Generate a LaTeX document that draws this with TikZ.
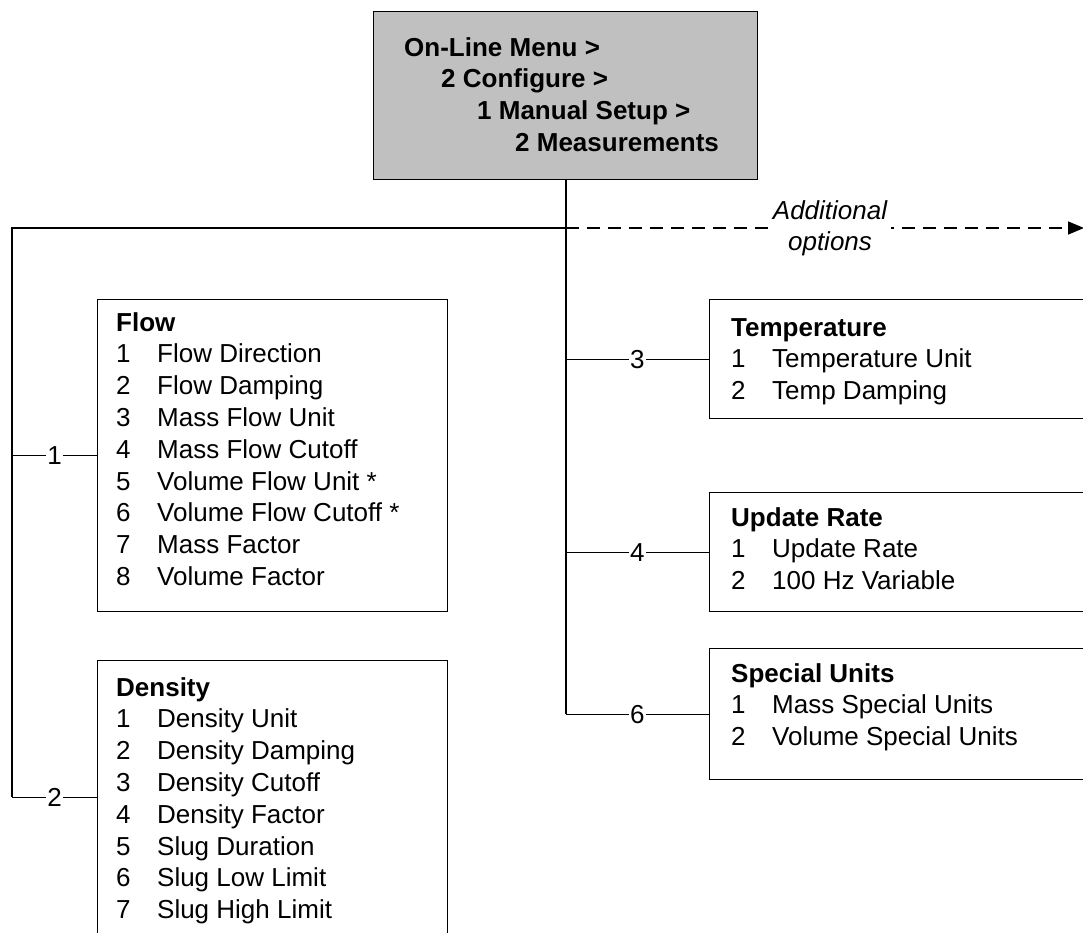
\documentclass[tikz,border=0pt]{standalone}
\usepackage{fontspec}
\setmainfont{Liberation Sans}
\usetikzlibrary{arrows.meta}
\definecolor{topgray}{HTML}{C0C0C0}
\newcommand{\itm}[2]{\makebox[41pt][l]{#1}#2}
\begin{document}
\begin{tikzpicture}[x=1pt,y=-1pt,
  every node/.style={font=\fontsize{26}{31.8}\selectfont},
  box/.style={draw=black, line width=1.3pt, fill=white, inner sep=0pt, anchor=north west},
  list/.style={anchor=base west, inner sep=0pt},
  trunk/.style={line width=2pt, draw=black},
  conn/.style={line width=1.1pt, draw=black},
  dashline/.style={line width=1.5pt, draw=black, dash pattern=on 13pt off 8pt},
  lbl/.style={fill=white, inner sep=1.5pt},
]
\clip (0,0) rectangle (1083,932);
% boxes
\node[box, fill=topgray, minimum width=384, minimum height=168] (menu) at (373,11) {};
\node[box, minimum width=350, minimum height=312] (flow) at (97,299) {};
\node[box, minimum width=350, minimum height=273] (density) at (97,660) {};
\node[box, minimum width=400, minimum height=119] (temp) at (709,299) {};
\node[box, minimum width=400, minimum height=119] (update) at (709,492) {};
\node[box, minimum width=400, minimum height=131] (special) at (709,648) {};
% texts
\node[list] (menutxt) at (404,56) {\bfseries\begin{tabular}[t]{@{}l@{}}
On-Line Menu >\\
\hspace*{37pt}2 Configure >\\
\hspace*{73pt}1 Manual Setup >\\
\hspace*{111pt}2 Measurements
\end{tabular}};
\node[list] (flowtxt) at (116,331) {\begin{tabular}[t]{@{}l@{}}
\textbf{Flow}\\
\itm{1}{Flow Direction}\\
\itm{2}{Flow Damping}\\
\itm{3}{Mass Flow Unit}\\
\itm{4}{Mass Flow Cutoff}\\
\itm{5}{Volume Flow Unit *}\\
\itm{6}{Volume Flow Cutoff *}\\
\itm{7}{Mass Factor}\\
\itm{8}{Volume Factor}
\end{tabular}};
\node[list] (denstxt) at (116,696) {\begin{tabular}[t]{@{}l@{}}
\textbf{Density}\\
\itm{1}{Density Unit}\\
\itm{2}{Density Damping}\\
\itm{3}{Density Cutoff}\\
\itm{4}{Density Factor}\\
\itm{5}{Slug Duration}\\
\itm{6}{Slug Low Limit}\\
\itm{7}{Slug High Limit}
\end{tabular}};
\node[list] (temptxt) at (731,336) {\begin{tabular}[t]{@{}l@{}}
\textbf{Temperature}\\
\itm{1}{Temperature Unit}\\
\itm{2}{Temp Damping}
\end{tabular}};
\node[list] (updtxt) at (731,526) {\begin{tabular}[t]{@{}l@{}}
\textbf{Update Rate}\\
\itm{1}{Update Rate}\\
\itm{2}{100 Hz Variable}
\end{tabular}};
\node[list] (spectxt) at (731,682) {\begin{tabular}[t]{@{}l@{}}
\textbf{Special Units}\\
\itm{1}{Mass Special Units}\\
\itm{2}{Volume Special Units}
\end{tabular}};
% connectors
\coordinate (west) at (12,228);
\coordinate (split) at (menu.south |- west);
\coordinate (arrowend) at (1084,228);
\draw[trunk] (menu.south) -- (menu.south |- special.west);
\draw[trunk] (split) -- (west) -- (west |- density.west);
\draw[dashline, -{Triangle[length=16pt,width=13pt]}] (split) -- (arrowend);
\node[lbl, inner xsep=4pt, inner ysep=0pt, align=center, font=\fontsize{26}{31}\selectfont\itshape] (addl) at (830,228) {Additional\\options};
\draw[conn] (west |- flow.west) -- node[lbl] (l1) {1} (flow.west);
\draw[conn] (west |- density.west) -- node[lbl] (l2) {2} (density.west);
\draw[conn] (split |- temp.west) -- node[lbl] (l3) {3} (temp.west);
\draw[conn] (split |- update.west) -- node[lbl] (l4) {4} (update.west);
\draw[conn] (split |- special.west) -- node[lbl] (l6) {6} (special.west);
\end{tikzpicture}
\end{document}
